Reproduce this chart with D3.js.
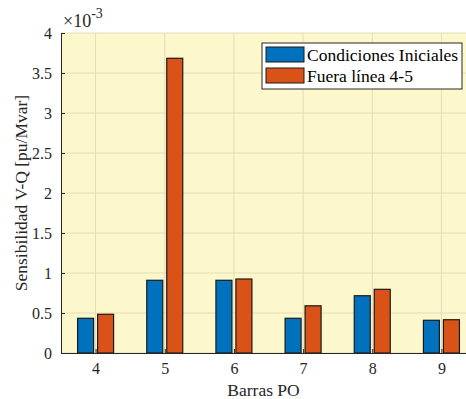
<!DOCTYPE html>
<html>
<head>
<meta charset="utf-8">
<script src="https://cdn.jsdelivr.net/npm/d3@7"></script>
<style>
  body { margin: 0; background: #fff; }
  svg { display: block; }
</style>
</head>
<body>
<div id="chart"></div>
<script>
// Bus numbers (x categories) and sensitivity values (x 1e-3)
const buses = [4, 5, 6, 7, 8, 9];
const initial = [0.434, 0.909, 0.909, 0.434, 0.716, 0.409];
const outage = [0.484, 3.684, 0.925, 0.59, 0.796, 0.416];
const seriesNames = ["Condiciones Iniciales", "Fuera línea 4-5"];
const yTicks = [0, 0.5, 1, 1.5, 2, 2.5, 3, 3.5, 4];

const W = 466, H = 399;
const margin = { top: 33, left: 61, bottom: 46 };
const plotH = H - margin.top - margin.bottom;
const font = "'Liberation Serif', 'Times New Roman', serif";
const colors = ["#0072BD", "#D95319"];

const svg = d3.select("#chart").append("svg")
    .attr("width", W)
    .attr("height", H);

// x spans bus 3.5 to 9.5, clipped by the right edge like the original
const x = d3.scaleLinear().domain([3.5, 9.5]).range([margin.left, margin.left + 415]);
const y = d3.scaleLinear().domain([0, 4]).range([margin.top + plotH, margin.top]);

const g = svg.append("g");

// Background
g.append("rect")
    .attr("x", x(3.5))
    .attr("y", y(4))
    .attr("width", x(9.5) - x(3.5))
    .attr("height", y(0) - y(4))
    .attr("fill", "#fdf8cc");

// Grid lines
g.selectAll(".hgrid")
    .data(yTicks)
    .enter()
    .append("line")
    .attr("x1", x(3.5)).attr("x2", x(9.5))
    .attr("y1", d => y(d)).attr("y2", d => y(d))
    .attr("stroke", "#e2dcb8")
    .attr("stroke-width", 1);

g.selectAll(".vgrid")
    .data(buses)
    .enter()
    .append("line")
    .attr("x1", d => x(d)).attr("x2", d => x(d))
    .attr("y1", y(0)).attr("y2", y(4))
    .attr("stroke", "#e2dcb8")
    .attr("stroke-width", 1);

// Bars
const barW = 16, offset = 10;
[initial, outage].forEach((vals, s) => {
    g.selectAll(".bar-" + s)
        .data(vals)
        .enter()
        .append("rect")
        .attr("x", (d, i) => x(buses[i]) + (s === 0 ? -offset : offset) - barW / 2)
        .attr("y", d => y(d))
        .attr("width", barW)
        .attr("height", d => y(0) - y(d))
        .attr("fill", colors[s])
        .attr("stroke", "#1a1a1a")
        .attr("stroke-width", 1.2);
});

// Axes (MATLAB style: ticks inside)
const yAxis = d3.axisLeft(y)
    .tickValues(yTicks)
    .tickFormat(d3.format("~g"))
    .tickSizeInner(-4)
    .tickSizeOuter(0)
    .tickPadding(9);

const yAxisG = svg.append("g")
    .attr("transform", `translate(${x(3.5)},0)`)
    .call(yAxis);

const xAxis = d3.axisBottom(x)
    .tickValues(buses)
    .tickFormat(d3.format("d"))
    .tickSizeInner(-4)
    .tickSizeOuter(0)
    .tickPadding(10);

const xAxisG = svg.append("g")
    .attr("transform", `translate(0,${y(0)})`)
    .call(xAxis);

[yAxisG, xAxisG].forEach(a => {
    a.attr("font-family", font).attr("font-size", 16);
    a.select(".domain").attr("stroke", "#262626").attr("stroke-width", 1);
    a.selectAll("line").attr("stroke", "#262626");
    a.selectAll("text")
        .attr("font-family", font)
        .attr("font-size", "16px")
        .attr("fill", "#262626");
});

// Exponent label
const expo = svg.append("text")
    .attr("x", x(3.5) + 2)
    .attr("y", 27)
    .attr("font-family", font)
    .attr("font-size", "18px")
    .attr("fill", "#262626");
expo.append("tspan").text("×10");
expo.append("tspan").attr("dy", -9).attr("font-size", "14px").text("-3");

// Axis labels
svg.append("text")
    .attr("x", x(3.5) + (W - x(3.5)) / 2)
    .attr("y", 396)
    .attr("text-anchor", "middle")
    .attr("font-family", font)
    .attr("font-size", "17.5px")
    .attr("fill", "#262626")
    .text("Barras PO");

svg.append("text")
    .attr("transform", `translate(27,${margin.top + plotH / 2}) rotate(-90)`)
    .attr("text-anchor", "middle")
    .attr("font-family", font)
    .attr("font-size", "17.5px")
    .attr("fill", "#262626")
    .text("Sensibilidad V-Q [pu/Mvar]");

// Legend
const legend = svg.append("g").attr("transform", "translate(262,43)");
legend.append("rect")
    .attr("width", 200)
    .attr("height", 46)
    .attr("fill", "#fff")
    .attr("stroke", "#262626")
    .attr("stroke-width", 1);

const items = legend.selectAll(".legend-item")
    .data(seriesNames)
    .enter()
    .append("g")
    .attr("transform", (d, i) => `translate(4,${4 + i * 21})`);

items.append("rect")
    .attr("width", 38)
    .attr("height", 15)
    .attr("fill", (d, i) => colors[i])
    .attr("stroke", "#1a1a1a")
    .attr("stroke-width", 1);

items.append("text")
    .attr("x", 41)
    .attr("y", 14)
    .attr("font-family", font)
    .attr("font-size", "17.5px")
    .attr("fill", "#000")
    .text(d => d);
</script>
</body>
</html>
